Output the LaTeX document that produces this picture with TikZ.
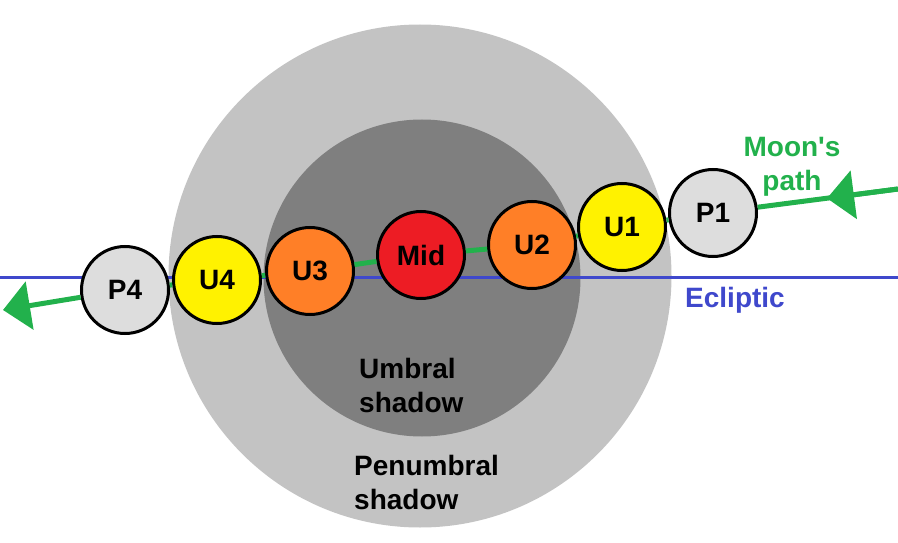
\documentclass[tikz,border=0pt]{standalone}
\usepackage{fontspec}
\setmainfont{Liberation Sans}
\usetikzlibrary{arrows.meta}
\definecolor{penum}{RGB}{195,195,195}
\definecolor{umbra}{RGB}{127,127,127}
\definecolor{pathgreen}{RGB}{34,177,76}
\definecolor{eclblue}{RGB}{63,72,204}
\definecolor{moonred}{RGB}{237,28,36}
\definecolor{moonorange}{RGB}{255,127,39}
\definecolor{moonyellow}{RGB}{255,242,0}
\definecolor{moongray}{RGB}{221,221,221}
\tikzset{
  moon/.style={circle, draw=black, line width=3pt, minimum size=87pt, inner sep=0pt,
    font=\fontsize{28}{34}\selectfont\bfseries},
  greenline/.style={draw=pathgreen, line width=5pt},
  greenarrow/.style={greenline, -{Triangle[length=27pt,width=48pt]}},
  label/.style={inner sep=0pt, font=\fontsize{28}{34}\selectfont\bfseries},
}
\begin{document}
\begin{tikzpicture}[x=1pt,y=-1pt]
\useasboundingbox (0,0) rectangle (898,543);
% shadows
\fill[penum] (420,276) circle (251.5);
\fill[umbra] (422,278) circle (158.5);
% ecliptic
\coordinate (EL) at (0,277);
\coordinate (ER) at (898,277);
\draw[eclblue, line width=3pt] (EL) -- (ER);
% moons
\node[moon, fill=moongray]   (P1)  at (713,213) {P1};
\node[moon, fill=moonyellow] (U1)  at (622,227) {U1};
\node[moon, fill=moonorange] (U2)  at (532,245) {U2};
\node[moon, fill=moonred]    (Mid) at (421,255) {Mid};
\node[moon, fill=moonorange] (U3)  at (310,271) {U3};
\node[moon, fill=moonyellow] (U4)  at (217,280) {U4};
\node[moon, fill=moongray]   (P4)  at (125,290) {P4};
% moon's path
\coordinate (Rend) at (898,189);
\coordinate (Rtip) at (827,198.3);
\coordinate (Lend) at (3,310);
\draw[greenline] (Rend) -- (P1);
\draw[greenarrow] (Rend) -- (Rtip);
\draw[greenline] (P1) -- (U1);
\draw[greenline] (U1) -- (U2);
\draw[greenline] (U2) -- (Mid);
\draw[greenline] (Mid) -- (U3);
\draw[greenline] (U3) -- (U4);
\draw[greenline] (U4) -- (P4);
\draw[greenarrow] (P4) -- (Lend);
% labels
\node[label, text=pathgreen, align=center, anchor=north] (mp) at (792,137) {Moon\textquotesingle s\\path};
\node[label, text=eclblue, anchor=north west] (ecl) at (685,287) {Ecliptic};
\node[label, align=left, anchor=north west] (umb) at (359,358) {Umbral\\shadow};
\node[label, align=left, anchor=north west] (pen) at (354,455) {Penumbral\\shadow};
\end{tikzpicture}
\end{document}
